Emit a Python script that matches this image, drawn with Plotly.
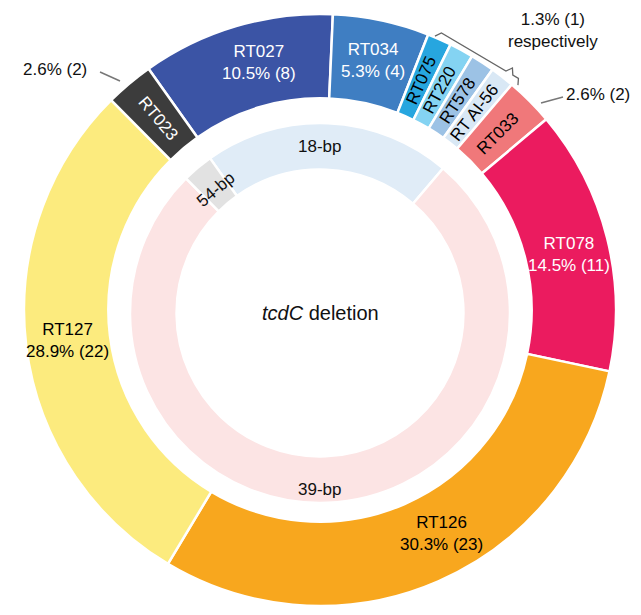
import plotly.graph_objects as go
import numpy as np

# ---------------- data ----------------
ribotypes = ["RT027", "RT034", "RT075", "RT220", "RT578", "RT AI-56",
             "RT033", "RT078", "RT126", "RT127", "RT023"]
counts = [8, 4, 1, 1, 1, 1, 2, 11, 23, 22, 2]
rt_colors = ["#3B54A5", "#3F7EC2", "#27A6DF", "#84D3F2", "#9CC2E5", "#D9E8F5",
             "#F0787A", "#EB1B5F", "#F8A71E", "#FCEB7E", "#3C3C3C"]
rt_text_colors = ["white", "white", "black", "black", "black", "black",
                  "black", "white", "black", "black", "white"]
# label style per slice: h = horizontal (name + share), r = radial (name only)
rt_label_style = ["h", "h", "r", "r", "r", "r", "r", "h", "h", "h", "r"]

deletions = ["18-bp", "39-bp", "54-bp"]
deletion_counts = [16, 58, 2]
deletion_colors = ["#E0ECF7", "#FCE4E4", "#E2E2E2"]
deletion_label_style = ["h", "h", "t"]

total = sum(counts)
pct = [c / total * 100 for c in counts]

# ---------------- geometry / style ----------------
OFF = 8                          # page body margin
W, H = 641 - 2 * OFF, 615 - 2 * OFF
FONT = "Liberation Sans, Arial, sans-serif"
ROT = -35.4        # start angle of first slice (clockwise from 12 o'clock)
CX, CY = 320, 310  # ring centre (page px)
R_OUT, HOLE_OUT = 296, 0.715
ICX, ICY = 320, 313
R_IN, HOLE_IN = 190, 0.755
label_nudge = {"RT126": -5.0, "RT027": 2.5, "RT078": 1.5,
               "18-bp": -2.5, "39-bp": 2.3}


def px(x):
    return (x - OFF) / W


def py(y):
    return 1 - (y - OFF) / H


def dom(cx, cy, r):
    return dict(x=[px(cx - r), px(cx + r)], y=[py(cy + r), py(cy - r)])


def mid_angles(vals):
    tot = sum(vals)
    cum = 0
    out = []
    for v in vals:
        out.append(ROT + (cum + v / 2) / tot * 360)
        cum += v
    return out


def text_angle(theta, style):
    t = theta % 360
    if style == "r":
        return t - 90 if t < 180 else t - 270
    if style == "t":
        if 90 < t < 270:
            t -= 180
        return t - 360 if t > 180 else t
    return 0


fig = go.Figure()
fig.add_trace(go.Pie(
    labels=ribotypes, values=counts, sort=False, direction="clockwise",
    rotation=ROT, hole=HOLE_OUT, domain=dom(CX, CY, R_OUT),
    marker=dict(colors=rt_colors, line=dict(color="white", width=2.5)),
    textinfo="none", hoverinfo="label+value", showlegend=False,
))
fig.add_trace(go.Pie(
    labels=deletions, values=deletion_counts, sort=False, direction="clockwise",
    rotation=ROT, hole=HOLE_IN, domain=dom(ICX, ICY, R_IN),
    marker=dict(colors=deletion_colors, line=dict(color="white", width=2.5)),
    textinfo="none", hoverinfo="label+value", showlegend=False,
))

annotations = []

# outer ring labels
r_mid_out = R_OUT * (1 + HOLE_OUT) / 2
for name, c, p, th, style, col in zip(ribotypes, counts, pct, mid_angles(counts),
                                      rt_label_style, rt_text_colors):
    th = th + label_nudge.get(name, 0)
    rr = r_mid_out + (1 if style == "h" else -3)
    x = CX + rr * np.sin(np.radians(th))
    y = CY - rr * np.cos(np.radians(th))
    txt = f"{name}<br>{p:.1f}% ({c})" if style == "h" else name
    annotations.append(dict(
        x=px(x), y=py(y), text=txt, showarrow=False, xanchor="center",
        yanchor="middle", textangle=text_angle(th, style),
        font=dict(family=FONT, size=17, color=col)))

# inner ring labels
r_mid_in = R_IN * (1 + HOLE_IN) / 2
for name, th, style in zip(deletions, mid_angles(deletion_counts), deletion_label_style):
    th = th + label_nudge.get(name, 0)
    rr = r_mid_in + (10 if name == "39-bp" else (-5 if name == "54-bp" else 0))
    x = ICX + rr * np.sin(np.radians(th))
    y = ICY - rr * np.cos(np.radians(th))
    annotations.append(dict(
        x=px(x), y=py(y), text=name, showarrow=False, xanchor="center",
        yanchor="middle", textangle=text_angle(th, style),
        font=dict(family=FONT, size=17, color="#111111")))

annotations += [
    dict(x=px(320), y=py(313), text="<i>tcdC</i> deletion", showarrow=False,
         xanchor="center", yanchor="middle",
         font=dict(family=FONT, size=20, color="#111111")),
    dict(x=px(55), y=py(69), text=f"{pct[-1]:.1f}% ({counts[-1]})", showarrow=False,
         xanchor="center", yanchor="middle",
         font=dict(family=FONT, size=17, color="#111111")),
    dict(x=px(632), y=py(95), text=f"{pct[6]:.1f}% ({counts[6]})", showarrow=False,
         xanchor="right", yanchor="middle",
         font=dict(family=FONT, size=17, color="#111111")),
    dict(x=px(553), y=py(31), text=f"{pct[2]:.1f}% ({counts[2]})<br>respectively",
         showarrow=False, xanchor="center", yanchor="middle",
         font=dict(family=FONT, size=17, color="#111111")),
]

# brace over the four 1.3 % slices
A = np.array([438.0, 31.0])
B = np.array([521.0, 80.0])
d = B - A
L = np.linalg.norm(d)
u = d / L
n = np.array([u[1], -u[0]])  # outward normal (up-right)
h = 6.0
tip = 0.86
pts = [A - n * h, A + u * 4, A + u * (tip * L - 4), A + u * tip * L + n * h,
       A + u * (tip * L + 4), B - u * 3, B - n * h]
path = "M " + " L ".join(f"{px(p[0]):.5f},{py(p[1]):.5f}" for p in pts)

shapes = [
    dict(type="path", path=path, xref="paper", yref="paper",
         line=dict(color="#666666", width=1.3)),
    dict(type="line", xref="paper", yref="paper", x0=px(100), y0=py(72),
         x1=px(120), y1=py(81), line=dict(color="#777777", width=1.5)),
    dict(type="line", xref="paper", yref="paper", x0=px(541), y0=py(103),
         x1=px(563), y1=py(97), line=dict(color="#777777", width=1.5)),
]

fig.update_layout(
    width=W, height=H, margin=dict(l=0, r=0, t=0, b=0),
    paper_bgcolor="white", plot_bgcolor="white",
    annotations=annotations, shapes=shapes,
    font=dict(family=FONT),
)

fig.write_html("out.html")
